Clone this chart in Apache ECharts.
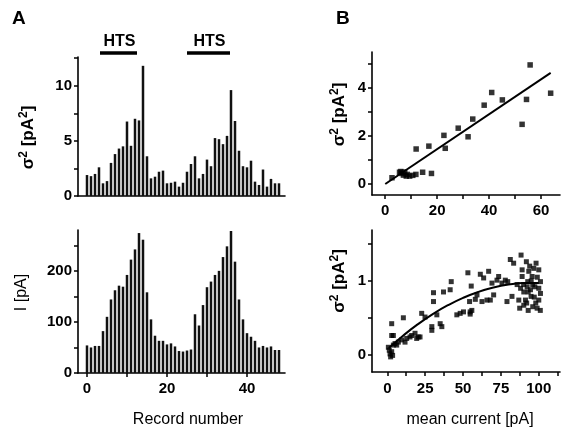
<!DOCTYPE html>
<html><head><meta charset="utf-8">
<script src="https://cdn.jsdelivr.net/npm/echarts@6/dist/echarts.min.js"></script>
<style>html,body{margin:0;padding:0;background:#fff}#c{width:562px;height:430px}</style>
</head><body><div id="c"></div>
<script>
// ---------- DATA ----------
const records = [0,1,2,3,4,5,6,7,8,9,10,11,12,13,14,15,16,17,18,19,20,21,22,23,24,25,26,27,28,29,30,31,32,33,34,35,36,37,38,39,40,41,42,43,44,45,46,47,48];
const variance = [1.9,1.8,2.0,2.6,1.15,1.35,3.0,3.8,4.3,4.5,6.75,4.55,7.0,6.85,11.8,3.6,1.6,1.75,2.2,2.3,1.15,1.2,1.3,0.85,
                  1.2,2.2,2.9,3.6,1.6,2.0,3.3,2.7,5.25,5.15,4.7,5.45,9.6,6.8,4.1,2.7,2.6,3.2,1.3,1.0,2.4,0.85,1.55,1.15,1.15];
const current = [54,50,53,53,82,110,144,162,171,169,192,222,242,274,261,158,105,73,63,63,56,58,52,43,
                 42,44,46,115,93,133,168,179,192,200,227,248,278,218,144,105,78,71,63,50,53,50,52,45,45];
const htsStart = [3.25, 25];
const htsEnd = [12.5, 35.75];
const htsLabel = ['HTS', 'HTS'];

// panel B top: variance vs mean current
const b1X = [2.6,5.5,6.0,6.4,7.0,7.5,8.1,8.5,9.4,10.6,11.8,11.9,14.4,16.8,17.8,22.6,23.1,28.1,31.9,33.7,38.1,41.0,45.1,52.7,54.4,55.8,63.7];
const b1Y = [0.26,0.49,0.52,0.44,0.37,0.5,0.33,0.4,0.33,0.36,0.4,1.46,0.49,1.58,0.44,2.03,1.49,2.33,1.97,2.71,3.29,3.82,3.51,2.49,3.53,4.97,3.79];
const b1FitX = [0, 63.7];
const b1FitY = [0, 4.64];

// panel B bottom
const b2X = [0.7,1.3,1.8,2.2,2.9,3.5,4.0,5.1,2.9,4.0,2.9,6.2,7.3,10.6,9.5,11.7,12.8,15.0,16.1,18.3,19.4,20.5,21.6,22.7,24.9,29.4,29.4,30.5,30.5,32.7,34.9,36.0,37.1,41.5,42.2,45.9,48.1,50.3,53.2,54.3,54.7,54.7,55.8,55.4,58.1,59.2,61.4,62.5,63.6,65.8,66.9,68.0,69.1,70.2,72.4,73.5,75.7,77.9,79.0,79.5,81.2,82.3,83.4,85.7,86.8,87.4,88.3,89.0,89.0,90.1,90.1,91.2,91.8,92.3,92.7,93.4,94.5,94.9,95.6,96.0,96.7,97.4,98.2,98.9,100.0,101.1,101.1,93,95,97,99,100,92,94,96,98,101,100,90,88,93];
const b2Y = [0.10,0.06,0.01,-0.03,0.04,-0.01,0.13,0.15,0.26,0.26,0.42,0.13,0.17,0.50,0.20,0.17,0.22,0.24,0.26,0.29,0.22,0.24,0.24,0.56,0.51,0.38,0.33,0.72,0.84,0.54,0.42,0.38,0.85,0.88,0.99,0.54,0.56,0.58,1.11,0.72,0.58,0.55,0.60,0.93,0.75,0.81,1.09,0.72,1.04,0.74,1.13,0.74,0.97,0.81,1.01,1.06,0.97,1.01,0.72,0.99,1.29,0.79,1.24,0.95,0.74,0.63,1.35,1.15,1.06,0.85,0.67,0.74,1.26,0.92,0.99,1.13,0.88,0.79,1.06,0.65,1.17,0.92,1.24,0.63,0.74,0.99,0.83,0.85,1.0,0.78,1.05,0.9,0.7,1.2,0.95,0.7,0.6,1.15,0.95,0.9,0.6];
const b2FitX = [1,10,20,30,40,50,60,70,80,90,100];
const b2FitY = [0.09,0.25,0.41,0.55,0.67,0.77,0.85,0.91,0.95,0.97,0.97];

// ---------- STYLE HELPERS ----------
const FF = 'Liberation Sans, Arial, sans-serif';
const black = '#000';
function axisBase(extra) {
  return Object.assign({
    type: 'value',
    axisLine: {show: true, onZero: false, lineStyle: {color: black, width: 1.6}},
    axisTick: {show: true, length: 4, inside: false, lineStyle: {color: black, width: 1.5}},
    axisLabel: {color: black, fontFamily: FF, fontSize: 15, fontWeight: 'bold', margin: 6},
    splitLine: {show: false}
  }, extra);
}
const sigName = '{a|σ}{s|2}{a| [pA}{s|2}{a|]}';
const sigRich = {
  a: {fontSize: 17, fontFamily: FF, color: black, fontWeight: 'bold', lineHeight: 19, verticalAlign: 'bottom'},
  s: {fontSize: 12, fontFamily: FF, color: black, fontWeight: 'bold', lineHeight: 19, verticalAlign: 'top'}
};
function zip(a, b) { return a.map((v, i) => [v, b[i]]); }

const chart = echarts.init(document.getElementById('c'), null, {renderer: 'canvas'});
chart.setOption({
  animation: false,
  backgroundColor: '#fff',
  grid: [
    {left: 78, top: 57, width: 207, height: 139},
    {left: 78, top: 230, width: 207, height: 143},
    {left: 372, top: 52, width: 188, height: 143},
    {left: 372, top: 230, width: 188, height: 142}
  ],
  xAxis: [
    axisBase({gridIndex: 0, min: -2.25, max: 49.5, axisTick: {show: false}, axisLabel: {show: false}}),
    axisBase({gridIndex: 1, min: -2.25, max: 49.5,
      axisTick: {show: true, length: 4, lineStyle: {color: black, width: 1.5}, customValues: [0,10,20,30,40]},
      axisLabel: {color: black, fontFamily: FF, fontSize: 15, fontWeight: 'bold', margin: 8, customValues: [0,20,40]},
      name: 'Record number', nameLocation: 'middle', nameGap: 39,
      nameTextStyle: {fontFamily: FF, fontSize: 16, color: black, padding: [0,0,0,13]}}),
    axisBase({gridIndex: 2, min: -5.1, max: 67.3,
      axisTick: {show: true, length: 4, lineStyle: {color: black, width: 1.5}, customValues: [0,10,20,30,40,50,60]},
      axisLabel: {color: black, fontFamily: FF, fontSize: 15, fontWeight: 'bold', margin: 8, customValues: [0,20,40,60]}}),
    axisBase({gridIndex: 3, min: -10.1, max: 114,
      axisTick: {show: true, length: 4, lineStyle: {color: black, width: 1.5}, customValues: [0,12.5,25,37.5,50,62.5,75,87.5,100,112.5]},
      axisLabel: {color: black, fontFamily: FF, fontSize: 15, fontWeight: 'bold', margin: 9, customValues: [0,25,50,75,100]},
      name: 'mean current [pA]', nameLocation: 'middle', nameGap: 40,
      nameTextStyle: {fontFamily: FF, fontSize: 16, color: black, padding: [0,0,0,8]}})
  ],
  yAxis: [
    axisBase({gridIndex: 0, min: 0, max: 12.6,
      axisTick: {show: true, length: 4, lineStyle: {color: black, width: 1.5}, customValues: [0,2.5,5,7.5,10,12.5]},
      axisLabel: {color: black, fontFamily: FF, fontSize: 15, fontWeight: 'bold', margin: 6, customValues: [0,5,10]},
      name: sigName, nameLocation: 'middle', nameGap: 41,
      nameTextStyle: {rich: sigRich, padding: [0,22,0,0]}}),
    axisBase({gridIndex: 1, min: 0, max: 280,
      axisTick: {show: true, length: 4, lineStyle: {color: black, width: 1.5}, customValues: [0,50,100,150,200,250]},
      axisLabel: {color: black, fontFamily: FF, fontSize: 15, fontWeight: 'bold', margin: 6, customValues: [0,100,200]},
      name: 'I [pA]', nameLocation: 'middle', nameGap: 48,
      nameTextStyle: {fontFamily: FF, fontSize: 16, color: black, padding: [0,0,0,18]}}),
    axisBase({gridIndex: 2, min: -0.46, max: 5.51,
      axisTick: {show: true, length: 4, lineStyle: {color: black, width: 1.5}, customValues: [0,1,2,3,4,5]},
      axisLabel: {color: black, fontFamily: FF, fontSize: 15, fontWeight: 'bold', margin: 6, customValues: [0,2,4]},
      name: sigName, nameLocation: 'middle', nameGap: 24,
      nameTextStyle: {rich: sigRich, padding: [0,0,0,18]}}),
    axisBase({gridIndex: 3, min: -0.235, max: 1.69,
      axisTick: {show: true, length: 4, lineStyle: {color: black, width: 1.5}, customValues: [0,0.5,1,1.5]},
      axisLabel: {color: black, fontFamily: FF, fontSize: 15, fontWeight: 'bold', margin: 6, customValues: [0,1]},
      name: sigName, nameLocation: 'middle', nameGap: 24,
      nameTextStyle: {rich: sigRich, padding: [0,0,0,40]}})
  ],
  series: [
    {type: 'bar', xAxisIndex: 0, yAxisIndex: 0, barWidth: 2.5, itemStyle: {color: '#111'}, silent: true,
     data: zip(records, variance)},
    {type: 'bar', xAxisIndex: 1, yAxisIndex: 1, barWidth: 2.5, itemStyle: {color: '#111'}, silent: true,
     data: zip(records, current)},
    {type: 'custom', xAxisIndex: 0, yAxisIndex: 0, clip: false, silent: true,
     data: htsStart.map((s, i) => [s, htsEnd[i], htsLabel[i]]),
     renderItem: function (params, api) {
       const top = params.coordSys.y;
       const p1 = api.coord([api.value(0), 0]);
       const p2 = api.coord([api.value(1), 0]);
       const y = top - 4;
       return {type: 'group', children: [
         {type: 'line', shape: {x1: p1[0], y1: y, x2: p2[0], y2: y}, style: {stroke: black, lineWidth: 3.5}},
         {type: 'text', x: (p1[0] + p2[0]) / 2 + 1, y: y - 3,
          style: {text: htsLabel[params.dataIndex], fill: black, font: 'bold 16px ' + FF, textAlign: 'center', textVerticalAlign: 'bottom'}}
       ]};
     }},
    {type: 'scatter', xAxisIndex: 2, yAxisIndex: 2, symbol: 'rect', symbolSize: 5.5, itemStyle: {color: black}, silent: true,
     data: zip(b1X, b1Y)},
    {type: 'line', xAxisIndex: 2, yAxisIndex: 2, symbol: 'none', lineStyle: {color: black, width: 2}, silent: true,
     data: zip(b1FitX, b1FitY)},
    {type: 'scatter', xAxisIndex: 3, yAxisIndex: 3, symbol: 'rect', symbolSize: 5, itemStyle: {color: black}, silent: true,
     data: zip(b2X, b2Y)},
    {type: 'line', xAxisIndex: 3, yAxisIndex: 3, symbol: 'none', smooth: true, lineStyle: {color: black, width: 2}, silent: true,
     data: zip(b2FitX, b2FitY)}
  ],
  graphic: [
    {type: 'text', left: 12, top: 9, style: {text: 'A', font: 'bold 19px ' + FF, fill: black}},
    {type: 'text', left: 336, top: 9, style: {text: 'B', font: 'bold 19px ' + FF, fill: black}}
  ]
});
</script></body></html>
